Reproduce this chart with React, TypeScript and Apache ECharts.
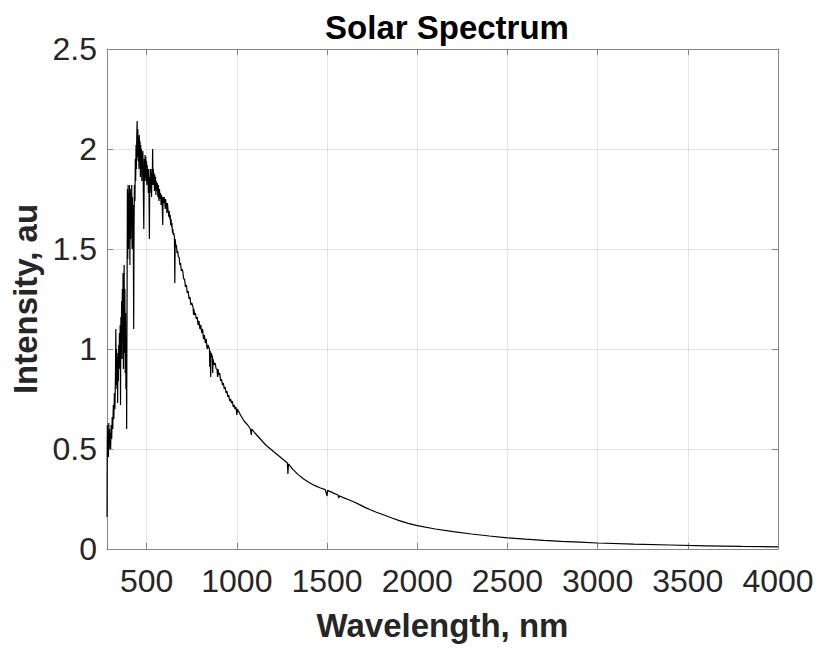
import React, { useEffect, useRef } from 'react';
import * as echarts from 'echarts';

const titleText = 'Solar Spectrum';
const xAxisLabel = 'Wavelength, nm';
const yAxisLabel = 'Intensity, au';

const xTickValues = [500, 1000, 1500, 2000, 2500, 3000, 3500, 4000];

// Ultraviolet / blue region (nm, au)
const uvWavelength = [
  280, 281, 282, 284, 286, 288, 290, 292, 294, 296, 298, 300, 303, 306, 309, 312, 315, 318, 321, 324,
  327, 329, 331, 333, 335, 337, 339, 341, 343, 345, 347, 349, 351, 353, 355, 357, 359, 361, 363, 365,
  367, 369, 371, 373, 375, 377, 379, 381, 383, 385, 387, 389, 391, 393, 395, 397, 399, 401, 403, 405,
  407, 409, 411, 413, 415, 417, 419, 421, 423, 425, 428, 430, 432, 435, 437, 439, 441, 443, 445, 447,
  449, 451, 453, 455, 457, 459, 461, 463, 465, 467, 469, 471, 473, 475, 477, 479, 481, 484, 487, 489,
  491, 493, 495, 497, 499, 501, 503, 505, 507, 509, 511, 513, 515, 517, 519, 521, 523, 525, 527, 529,
  531, 533, 535, 537, 539, 541, 543, 545, 547, 549, 551, 553, 556, 559, 562, 565, 568, 571, 574, 577,
  580, 583, 586, 589, 591, 594, 597,
];
const uvIntensity = [
  0.16, 0.45, 0.62, 0.48, 0.58, 0.46, 0.63, 0.5, 0.6, 0.52, 0.58, 0.5, 0.62, 0.55, 0.66, 0.6, 0.72, 0.65, 0.78, 0.7,
  0.88, 1.1, 0.82, 1.0, 0.8, 0.96, 0.73, 0.98, 0.84, 1.02, 0.9, 1.08, 0.92, 1.12, 0.72, 1.16, 0.98, 1.24, 0.95, 1.3,
  1.05, 1.38, 0.9, 1.25, 1.42, 0.98, 1.3, 0.88, 1.18, 0.8, 1.05, 0.6, 1.2, 1.8, 1.45, 1.82, 1.5, 1.78, 1.58, 1.82,
  1.42, 1.8, 1.55, 1.78, 1.62, 1.82, 1.5, 1.76, 1.6, 1.72, 1.1, 1.62, 1.82, 1.74, 1.95, 1.84, 2.02, 1.9, 2.06, 2.14,
  1.96, 2.1, 1.94, 2.06, 1.9, 2.07, 1.96, 2.04, 1.86, 2.02, 1.9, 2.0, 1.84, 1.98, 1.88, 1.99, 1.82, 1.6, 1.95, 1.84,
  1.97, 1.86, 1.96, 1.84, 1.94, 1.82, 1.92, 1.84, 1.9, 1.78, 1.9, 1.76, 1.55, 1.86, 1.78, 1.9, 1.8, 1.88, 1.76, 1.9,
  1.84, 2.0, 1.82, 1.9, 1.82, 1.88, 1.79, 1.87, 1.8, 1.86, 1.77, 1.84, 1.79, 1.83, 1.76, 1.82, 1.74, 1.8, 1.75, 1.78,
  1.72, 1.77, 1.72, 1.62, 1.76, 1.73, 1.76,
];

// Red / near-infrared region (nm, au)
const visWavelength = [
  600, 603, 605, 608, 610, 612, 615, 618, 620, 623,
  625, 628, 630, 633, 635, 638, 640, 643, 645, 648,
  650, 654, 656, 658, 662, 665, 668, 672, 676, 680,
  684, 688, 692, 695, 700, 705, 710, 715, 720, 725,
  730, 735, 740, 745, 750, 757, 760, 762, 766, 770,
  775, 780, 785, 790, 795, 800, 805, 810, 815, 820,
  825, 830, 835, 840, 848, 850, 852, 855, 857, 865,
  866, 868, 874, 880, 885, 890, 893, 895, 900, 905,
  910, 915, 920, 925, 930, 935, 940, 945, 950, 955,
  960, 965, 970, 975, 980, 985, 990, 995, 1000, 1003,
];
const visIntensity = [
  1.74, 1.7, 1.75, 1.71, 1.73, 1.68, 1.73, 1.7, 1.7, 1.66,
  1.69, 1.65, 1.67, 1.62, 1.65, 1.61, 1.63, 1.58, 1.6, 1.57,
  1.58, 1.56, 1.33, 1.55, 1.51, 1.52, 1.48, 1.49, 1.46, 1.46,
  1.42, 1.43, 1.39, 1.4, 1.39, 1.35, 1.35, 1.31, 1.32, 1.28,
  1.29, 1.25, 1.26, 1.22, 1.23, 1.21, 1.17, 1.2, 1.17, 1.18,
  1.15, 1.16, 1.12, 1.14, 1.1, 1.12, 1.08, 1.1, 1.05, 1.07,
  1.03, 1.05, 1.0, 1.02, 1.0, 0.91, 0.99, 0.86, 0.98, 0.96,
  0.88, 0.95, 0.92, 0.93, 0.9, 0.9, 0.86, 0.9, 0.87, 0.88,
  0.84, 0.85, 0.82, 0.83, 0.8, 0.81, 0.78, 0.79, 0.76, 0.77,
  0.74, 0.75, 0.73, 0.74, 0.71, 0.72, 0.7, 0.71, 0.67, 0.7,
];

// Infrared region (nm, au)
const irWavelength = [
  1020, 1040, 1060, 1075, 1080, 1083, 1100, 1120, 1140, 1160,
  1180, 1200, 1220, 1240, 1260, 1280, 1283, 1286, 1310, 1340,
  1370, 1400, 1430, 1460, 1490, 1500, 1503, 1530, 1560, 1565,
  1568, 1590, 1620, 1650, 1680, 1710, 1740, 1770, 1800, 1830,
  1860, 1900, 1950, 2000, 2100, 2200, 2300, 2400, 2500, 2600,
  2700, 2800, 2900, 3000, 3200, 3400, 3600, 3800, 4000,
];
const irIntensity = [
  0.67, 0.64, 0.62, 0.6, 0.57, 0.6, 0.58, 0.56, 0.54, 0.52,
  0.505, 0.49, 0.475, 0.46, 0.445, 0.43, 0.375, 0.425, 0.398, 0.372,
  0.35, 0.333, 0.318, 0.306, 0.297, 0.265, 0.293, 0.282, 0.27, 0.255,
  0.266, 0.257, 0.246, 0.235, 0.222, 0.208, 0.196, 0.185, 0.175, 0.165,
  0.155, 0.142, 0.128, 0.117, 0.1, 0.087, 0.075, 0.065, 0.056, 0.049,
  0.043, 0.038, 0.034, 0.03, 0.024, 0.02, 0.016, 0.013, 0.011,
];

const FONT = 'Liberation Sans, Arial, Helvetica, sans-serif';
const AXIS_COLOR = '#858585';
const GRID_COLOR = '#e3e3e3';
const TEXT_COLOR = '#262626';

export default function App() {
  const ref = useRef<HTMLDivElement>(null);

  useEffect(() => {
    if (!ref.current) return;
    const chart = echarts.init(ref.current, undefined, { renderer: 'svg' });
    const wl = [...uvWavelength, ...visWavelength, ...irWavelength];
    const val = [...uvIntensity, ...visIntensity, ...irIntensity];
    const seriesData = wl.map((w, i) => [w, val[i]]);

    const baseX = {
      type: 'value' as const,
      min: 280,
      max: 4000,
      axisLine: { show: true, onZero: false, lineStyle: { color: AXIS_COLOR, width: 1 } },
    };
    const baseY = {
      type: 'value' as const,
      min: 0,
      max: 2.5,
      interval: 0.5,
      axisLine: { show: true, onZero: false, lineStyle: { color: AXIS_COLOR, width: 1 } },
    };

    chart.setOption({
      animation: false,
      backgroundColor: '#ffffff',
      title: {
        text: titleText,
        left: 442,
        top: 6,
        textAlign: 'center',
        textStyle: { fontFamily: FONT, fontSize: 33, fontWeight: 'bold', color: '#000000' },
      },
      grid: { left: 107, top: 49, right: 39, bottom: 101, containLabel: false, outerBoundsMode: 'none' },
      xAxis: [
        {
          ...baseX,
          position: 'bottom',
          name: xAxisLabel,
          nameLocation: 'middle',
          nameGap: 76,
          nameTextStyle: { fontFamily: FONT, fontSize: 33, fontWeight: 'bold', color: TEXT_COLOR, verticalAlign: 'middle' },
          axisTick: { show: true, inside: true, length: 6, customValues: xTickValues, lineStyle: { color: AXIS_COLOR } },
          axisLabel: {
            show: true,
            customValues: xTickValues,
            margin: 16,
            fontFamily: FONT,
            fontSize: 32,
            color: TEXT_COLOR,
            formatter: (v: number) => String(v),
          },
          splitLine: { show: true, lineStyle: { color: GRID_COLOR, width: 1 } },
        },
        {
          ...baseX,
          position: 'top',
          axisTick: { show: true, inside: true, length: 6, customValues: xTickValues, lineStyle: { color: AXIS_COLOR } },
          axisLabel: { show: false },
          splitLine: { show: false },
        },
      ],
      yAxis: [
        {
          ...baseY,
          position: 'left',
          name: yAxisLabel,
          nameLocation: 'middle',
          nameGap: 77,
          nameTextStyle: { fontFamily: FONT, fontSize: 33, fontWeight: 'bold', color: TEXT_COLOR, verticalAlign: 'middle' },
          axisTick: { show: true, inside: true, length: 6, lineStyle: { color: AXIS_COLOR } },
          axisLabel: {
            show: true,
            margin: 10,
            fontFamily: FONT,
            fontSize: 32,
            color: TEXT_COLOR,
            formatter: (v: number) => String(v),
          },
          splitLine: { show: true, lineStyle: { color: GRID_COLOR, width: 1 } },
        },
        {
          ...baseY,
          position: 'right',
          axisTick: { show: true, inside: true, length: 6, lineStyle: { color: AXIS_COLOR } },
          axisLabel: { show: false },
          splitLine: { show: false },
        },
      ],
      series: [
        {
          type: 'line',
          xAxisIndex: 0,
          yAxisIndex: 0,
          data: seriesData,
          showSymbol: false,
          symbol: 'none',
          lineStyle: { color: '#000000', width: 1.2 },
          emphasis: { disabled: true },
        },
      ],
    });

    return () => {
      chart.dispose();
    };
  }, []);

  return (
    <div
      ref={ref}
      style={{ position: 'absolute', left: 0, top: 0, width: 817, height: 650 }}
    />
  );
}
